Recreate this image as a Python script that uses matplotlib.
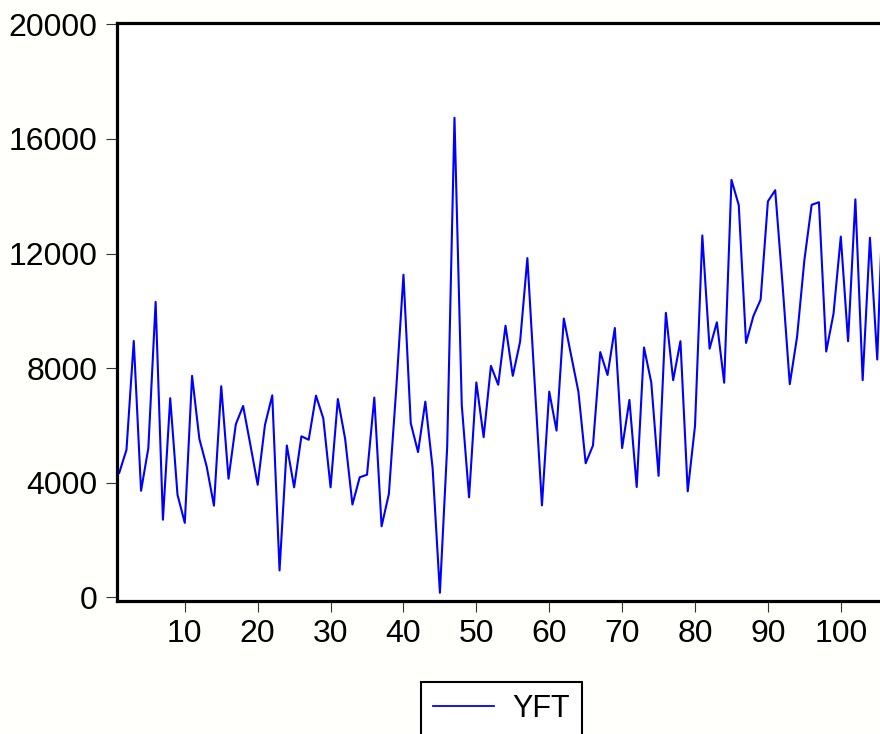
import numpy as numpy
import matplotlib
matplotlib.use( "Agg" )
import matplotlib.pyplot as plt

# series
obs = numpy.arange( 1, 107 )
yft = [ 4340, 5150, 8950, 3720, 5210, 10310, 2710, 6950, 3580, 2600,
        7730, 5530, 4570, 3200, 7370, 4140, 6040, 6680, 5320, 3930,
        6020, 7050, 940, 5300, 3840, 5620, 5500, 7040, 6250, 3840,
        6920, 5530, 3240, 4190, 4280, 6970, 2480, 3610, 7240, 11260,
        6080, 5070, 6830, 4510, 160, 5260, 16740, 6710, 3490, 7500,
        5590, 8080, 7420, 9480, 7730, 8920, 11840, 7480, 3210, 7180,
        5820, 9730, 8450, 7180, 4680, 5300, 8560, 7760, 9400, 5210,
        6890, 3850, 8720, 7500, 4240, 9930, 7580, 8940, 3700, 5990,
        12630, 8680, 9600, 7490, 14570, 13690, 8880, 9810, 10390, 13820,
        14210, 10950, 7440, 9090, 11760, 13700, 13790, 8580, 9900, 12590,
        8940, 13890, 7580, 12550, 8300, 15500 ]
xticks = [ 10, 20, 30, 40, 50, 60, 70, 80, 90, 100 ]
yticks = [ 0, 4000, 8000, 12000, 16000, 20000 ]

plt.rcParams['font.family'] = [ 'Liberation Sans', 'DejaVu Sans' ]

fig = plt.figure( figsize=( 8.8, 7.34 ), dpi=100, facecolor='#fffffb' )

# axes run past the right edge of the picture, as in the reference
left = 117 / 880
bottom = 1 - 600.5 / 734
top = 1 - 23.3 / 734
width = ( 968 - 117 ) / 880
ax = fig.add_axes( [ left, bottom, width, top - bottom ] )
ax.set_facecolor( 'white' )

line, = ax.plot( obs, yft, color='#0000ff', lw=1.5 )

ax.set_xlim( 0.7, 0.7 + 851 / 7.289 )
ax.set_ylim( -110, 20035 )
ax.set_xticks( xticks )
ax.set_yticks( yticks )

for side in [ 'left', 'bottom', 'top' ] :
    ax.spines[side].set_linewidth( 2.3 )
    ax.spines[side].set_color( 'black' )
ax.spines['right'].set_visible( False )

ax.tick_params( axis='both', direction='out', length=8, width=0.8,
                color='#333333', labelsize=23, labelcolor='black' )
ax.tick_params( axis='y', pad=6 )
ax.tick_params( axis='x', pad=5 )

leg = fig.legend( [ line ], [ 'YFT' ], loc='upper center',
                  bbox_to_anchor=( 501.7 / 880, 1 - 681.7 / 734 ),
                  borderaxespad=0, fontsize=22, fancybox=False,
                  framealpha=1, edgecolor='black', handlelength=2.0,
                  handletextpad=0.6, borderpad=0.4 )
leg.get_frame().set_linewidth( 1.5 )
leg.legend_handles[0].set_linewidth( 1.3 )

plt.savefig( 'out.png', dpi=100, facecolor=fig.get_facecolor() )
